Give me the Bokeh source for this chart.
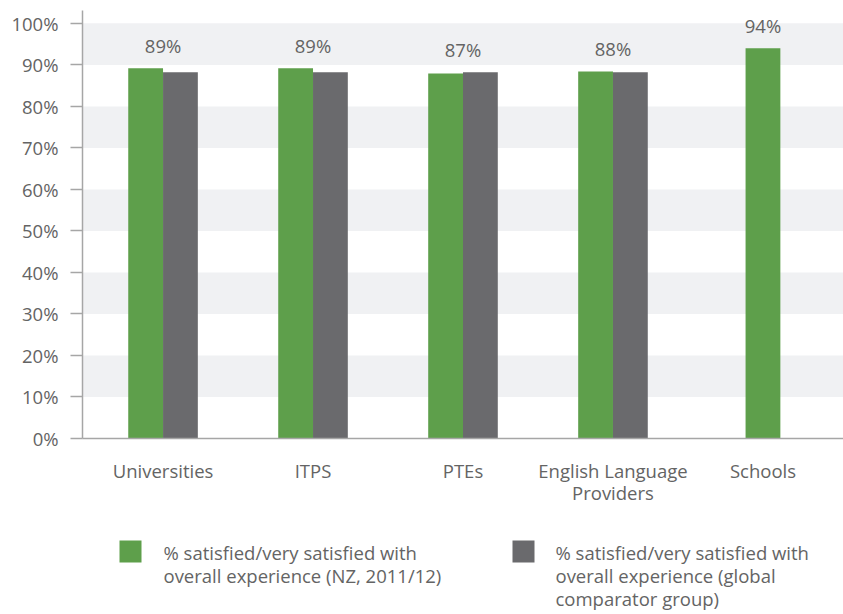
from bokeh.plotting import figure
from bokeh.models import (ColumnDataSource, FactorRange, Range1d, FixedTicker,
                          PrintfTickFormatter, BoxAnnotation)
from bokeh.transform import dodge
from bokeh.layouts import column
from bokeh.core.properties import value
from bokeh.embed import file_html
from bokeh.resources import INLINE

# ---- data ----
categories = ["Universities", "ITPS", "PTEs", "English Language\nProviders", "Schools"]
nz_values = [89.2, 89.2, 87.9, 88.4, 94.0]          # % satisfied (NZ, 2011/12)
global_values = [88.2, 88.2, 88.2, 88.2, None]      # % satisfied (global comparator group)
bar_labels = ["89%", "89%", "87%", "88%", "94%"]
y_ticks = [0, 10, 20, 30, 40, 50, 60, 70, 80, 90, 100]
legend_labels = [
    ["% satisfied/very satisfied with", "overall experience (NZ, 2011/12)"],
    ["% satisfied/very satisfied with", "overall experience (global", "comparator group)"],
]

GREEN = "#5e9f4b"
GREY = "#6a6a6d"
TEXT = "#646464"
AXIS = "#a6a6a6"
BAND = "#f0f1f3"
FONT = "Open Sans"
FS = "18.5px"

# ---- main chart ----
p = figure(x_range=FactorRange(*categories, range_padding=0.037,
                               range_padding_units="absolute"),
           y_range=Range1d(0, 103.1),
           width=843, height=520, output_backend="svg", toolbar_location=None,
           min_border_left=82, min_border_right=0, min_border_top=10, min_border_bottom=82)
p.outline_line_color = None
p.xgrid.grid_line_color = None
p.ygrid.grid_line_color = None

for lo in range(10, 100, 20):
    p.add_layout(BoxAnnotation(bottom=lo, top=lo + 10, fill_color=BAND, fill_alpha=1,
                               line_color=None, level="underlay"))

pair_cats = [c for c, g in zip(categories, global_values) if g is not None]
pair_nz = [n for n, g in zip(nz_values, global_values) if g is not None]
pair_gl = [g for g in global_values if g is not None]
single_cats = [c for c, g in zip(categories, global_values) if g is None]
single_nz = [n for n, g in zip(nz_values, global_values) if g is None]

W = 0.232
src_pair = ColumnDataSource(dict(cat=pair_cats, nz=pair_nz, gl=pair_gl))
p.vbar(x=dodge("cat", -W / 2, range=p.x_range), top="nz", width=W, bottom=0,
       source=src_pair, fill_color=GREEN, line_color=None)
p.vbar(x=dodge("cat", W / 2, range=p.x_range), top="gl", width=W, bottom=0,
       source=src_pair, fill_color=GREY, line_color=None)
src_single = ColumnDataSource(dict(cat=single_cats, nz=single_nz))
p.vbar(x="cat", top="nz", width=W, bottom=0, source=src_single,
       fill_color=GREEN, line_color=None)

label_y = [max(n, g if g is not None else 0) + 5.5 for n, g in zip(nz_values, global_values)]
src_lab = ColumnDataSource(dict(cat=categories, y=label_y, t=bar_labels))
p.text(x="cat", y="y", text="t", source=src_lab, text_align="center",
       text_baseline="middle", text_font=value(FONT), text_font_size=FS,
       text_color=TEXT)

# y axis
ya = p.yaxis[0]
ya.ticker = FixedTicker(ticks=y_ticks)
ya.formatter = PrintfTickFormatter(format="%d%%")
ya.axis_line_color = AXIS
ya.axis_line_width = 1.5
ya.major_tick_line_color = AXIS
ya.major_tick_line_width = 1.5
ya.major_tick_out = 12
ya.major_tick_in = 0
ya.minor_tick_line_color = None
ya.major_label_standoff = 12
ya.major_label_text_font = FONT
ya.major_label_text_font_size = FS
ya.major_label_text_color = TEXT

# x axis
xa = p.xaxis[0]
xa.axis_line_color = AXIS
xa.axis_line_width = 1.5
xa.major_tick_line_color = None
xa.major_tick_out = 0
xa.major_tick_in = 0
xa.major_label_standoff = 19
xa.major_label_text_font = FONT
xa.major_label_text_font_size = FS
xa.major_label_text_color = TEXT
xa.major_label_text_line_height = 0.9

# ---- legend (its frame is aligned with the chart frame: x from 82 to 843) ----
leg = figure(width=843, height=94, x_range=Range1d(82, 843), y_range=Range1d(94, 0),
             output_backend="svg", toolbar_location=None,
             min_border_left=82, min_border_right=0, min_border_top=0, min_border_bottom=0)
leg.axis.visible = False
leg.grid.visible = False
leg.outline_line_color = None

sw_x = [130, 523]
txt_x = [163, 555]
colors = [GREEN, GREY]
leg.rect(x=sw_x, y=[31, 31], width=22, height=22, fill_color=colors, line_color=None)
tx, ty, tt = [], [], []
for i, lines in enumerate(legend_labels):
    for j, line in enumerate(lines):
        tx.append(txt_x[i])
        ty.append(32 + 23 * j)
        tt.append(line)
leg.text(x=tx, y=ty, text=tt, text_align="left", text_baseline="middle",
         text_font=value(FONT), text_font_size=FS, text_color=TEXT)

layout = column(p, leg, spacing=0)
open("out.html", "w").write(file_html(layout, INLINE))
